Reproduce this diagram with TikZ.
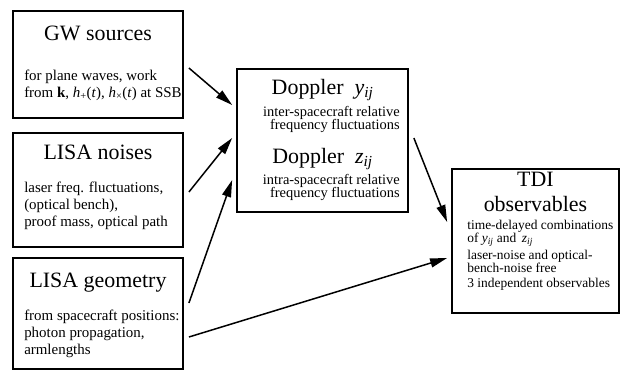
\documentclass[tikz,border=0pt]{standalone}
\usepackage{fontspec}
\setmainfont{Liberation Serif}
\usetikzlibrary{arrows.meta, positioning}

\begin{document}
\begin{tikzpicture}[
  box/.style={draw, line width=1.8bp, inner sep=0pt},
  head/.style={anchor=base, inner sep=0pt, font=\fontsize{22}{25}\selectfont},
  body/.style={anchor=north west, inner sep=0pt, align=left,
               font=\fontsize{15}{17}\selectfont},
  flow/.style={-{Triangle[length=17bp, width=9bp]}, line width=1.5bp},
]
\useasboundingbox (0,0) rectangle (21.944,-13.159);

% Boxes
\node[box, minimum width=6.00cm, minimum height=3.775cm] (gw) at (3.457,-2.276) {};
\node[box, minimum width=6.00cm, minimum height=4.02cm] (noise) at (3.457,-6.703) {};
\node[box, minimum width=6.00cm, minimum height=3.92cm] (geom) at (3.457,-11.06) {};
\node[box, minimum width=6.03cm, minimum height=5.045cm] (dop) at (11.378,-4.957) {};
\node[box, minimum width=5.89cm, minimum height=5.08cm] (tdi) at (18.892,-8.502) {};

% Left column
\node[head] (gwtitle) at ([yshift=-30bp]gw.north) {GW sources};
\node[body] (gwtext) at ([xshift=12bp, yshift=-60bp]gw.north west)
{for plane waves, work\\
from \textbf{k}, \textit{h}\textsubscript{+}(\textit{t}), \textit{h}\textsubscript{×}(\textit{t}) at SSB};

\node[head] (noisetitle) at ([yshift=-27bp]noise.north) {LISA noises};
\node[body] (noisetext) at ([xshift=12bp, yshift=-50bp]noise.north west)
{laser freq. fluctuations,\\
(optical bench),\\
proof mass, optical path};

\node[head] (geomtitle) at ([yshift=-30bp]geom.north) {LISA geometry};
\node[body] (geomtext) at ([xshift=12bp, yshift=-53bp]geom.north west)
{from spacecraft positions:\\
photon propagation,\\
armlengths};

% Doppler box
\node[head] (ytitle) at ([yshift=-26bp]dop.north) {Doppler\enspace\textit{y}\textsubscript{\textit{ij}}};
\node[body, anchor=north east, align=right, font=\fontsize{14.5}{13.5}\selectfont]
  (ytext) at ([xshift=-9bp, yshift=-38bp]dop.north east)
{inter-spacecraft relative\\
frequency fluctuations};
\node[head] (ztitle) at ([yshift=-95bp]dop.north) {Doppler\enspace\textit{z}\textsubscript{\textit{ij}}};
\node[body, anchor=north east, align=right, font=\fontsize{14.5}{13.5}\selectfont]
  (ztext) at ([xshift=-9bp, yshift=-106bp]dop.north east)
{intra-spacecraft relative\\
frequency fluctuations};

% TDI box
\node[head, anchor=north, align=center] (tdititle) at ([yshift=-3.5bp]tdi.north)
{TDI\\observables};
\node[body, font=\fontsize{13.5}{12.5}\selectfont] (tditext)
  at ([xshift=16bp, yshift=-52bp]tdi.north west)
{time-delayed combinations\\
of \textit{y}\textsubscript{\textit{ij}} and\, \textit{z}\textsubscript{\textit{ij}}\\[3bp]
laser-noise and optical-\\
bench-noise free\\[3bp]
3 independent observables};

% Arrows
\draw[flow] ([xshift=5bp, yshift=-3.5bp]gw.east) -- ([xshift=-4bp, yshift=35.5bp]dop.west);
\draw[flow] ([xshift=5bp, yshift=-2bp]noise.east) -- ([xshift=-4bp, yshift=2.5bp]dop.west);
\draw[flow] ([xshift=5bp, yshift=10.5bp]geom.east) -- ([xshift=-4bp, yshift=-39.5bp]dop.west);
\draw[flow] ([xshift=5bp, yshift=-23.5bp]geom.east) -- ([xshift=-4bp, yshift=-17bp]tdi.west);
\draw[flow] ([xshift=5bp, yshift=2.5bp]dop.east) -- ([xshift=-4bp, yshift=19bp]tdi.west);
\end{tikzpicture}
\end{document}
